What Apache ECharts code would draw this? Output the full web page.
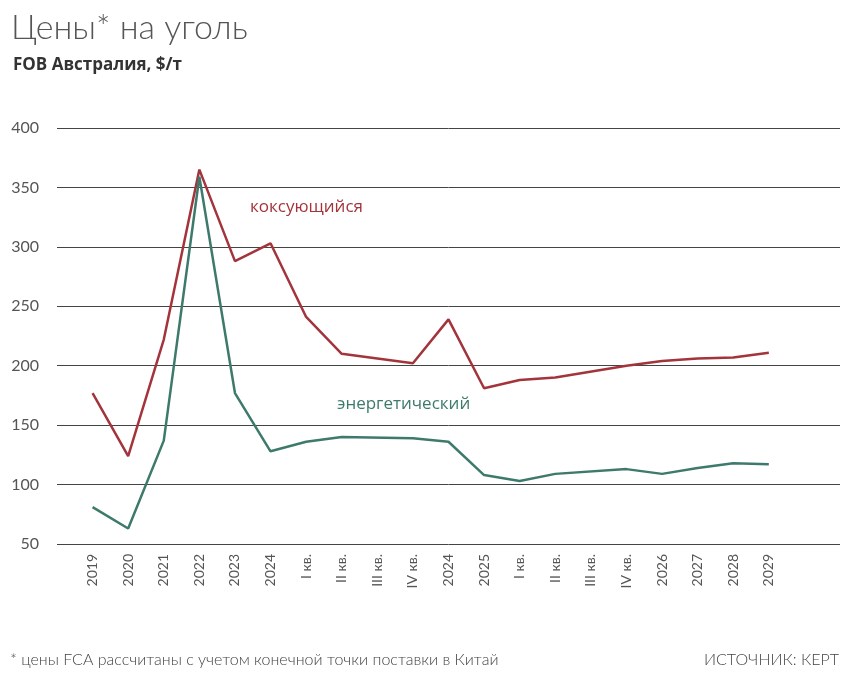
<!DOCTYPE html>
<html><head><meta charset="utf-8">
<script src="https://cdn.jsdelivr.net/npm/echarts@6/dist/echarts.min.js"></script>
<style>body{margin:0;background:#fff}#c{width:857px;height:685px}</style></head>
<body><div id="c"></div>
<script>
var categories = ['', '2019','2020','2021','2022','2023','2024','I кв.','II кв.','III кв.','IV кв.','2024','2025','I кв.','II кв.','III кв.','IV кв.','2026','2027','2028','2029','', ''];
var coking = [null,177,124,222,365,288,303,241,210,null,202,239,181,188,190,null,200,204,206,207,211,null,null];
var energy = [null,81,63,137,359,177,128,136,140,null,139,136,108,103,109,null,113,109,114,118,117,null,null];
var yTicks = {min:50, max:400, interval:50};
var RED = '#a3343c', GREEN = '#3e7a6c';
var chart = echarts.init(document.getElementById('c'));
function lbl(map, color){
  return {show:true, fontSize:22, color:color, fontFamily:'Lato', position:'left',
    formatter:function(p){return map[p.dataIndex]!==undefined?map[p.dataIndex]:'';}};
}
chart.setOption({
  animation:false,
  title:[
    {text:'Цены* на уголь', left:6, top:6, textStyle:{fontSize:34, fontWeight:300, color:'#555', fontFamily:'Lato'}},
    {text:'FOB Австралия, $/т', left:8, top:52, textStyle:{fontSize:17, fontWeight:'bold', color:'#333', fontFamily:'Open Sans'}}
  ],
  grid:{left:57, right:17, top:128, bottom:141},
  xAxis:{type:'category', data:categories, boundaryGap:false,
    axisLine:{show:false}, axisTick:{show:false},
    axisLabel:{rotate:90, color:'#555', fontSize:14, fontFamily:'Lato', interval:0, margin:10}},
  yAxis:{type:'value', min:yTicks.min, max:yTicks.max, interval:yTicks.interval,
    axisLabel:{color:'#555', fontSize:16, fontFamily:'Lato', margin:18},
    splitLine:{lineStyle:{color:'#444', width:1}}},
  series:[
    {type:'line', data:coking, connectNulls:true, symbol:'circle', symbolSize:1, showSymbol:true,
     itemStyle:{opacity:0}, lineStyle:{color:RED, width:2.5},
     label:lbl({1:'81',4:'365',20:'211'}, RED),
     labelLayout:function(p){
       if(p.dataIndex===1) return {dx:-4, dy:-8};
       if(p.dataIndex===4) return {dx:-2, dy:-18};
       if(p.dataIndex===20) return {dx:58, dy:-2};
       return {};
     }},
    {type:'line', data:energy, connectNulls:true, symbol:'circle', symbolSize:1, showSymbol:true,
     itemStyle:{opacity:0}, lineStyle:{color:GREEN, width:2.5},
     label:lbl({1:'177',4:'359',20:'117'}, GREEN),
     labelLayout:function(p){
       if(p.dataIndex===1) return {dx:-2, dy:22};
       if(p.dataIndex===4) return {dx:58, dy:0};
       if(p.dataIndex===20) return {dx:58, dy:2};
       return {};
     }}
  ],
  graphic:[
    {type:'text', left:250, top:199, style:{text:'коксующийся', fill:RED, fontSize:17, fontFamily:'Open Sans'}},
    {type:'text', left:337, top:396, style:{text:'энергетический', fill:GREEN, fontSize:17, fontFamily:'Open Sans'}},
    {type:'text', left:10, top:652, style:{text:'* цены FCA рассчитаны с учетом конечной точки поставки в Китай', fill:'#444', fontSize:16, fontFamily:'Lato', fontWeight:300}},
    {type:'text', right:18, top:652, style:{text:'ИСТОЧНИК: КЕРТ', fill:'#444', fontSize:16, fontFamily:'Lato', fontWeight:300}}
  ]
});
</script></body></html>
